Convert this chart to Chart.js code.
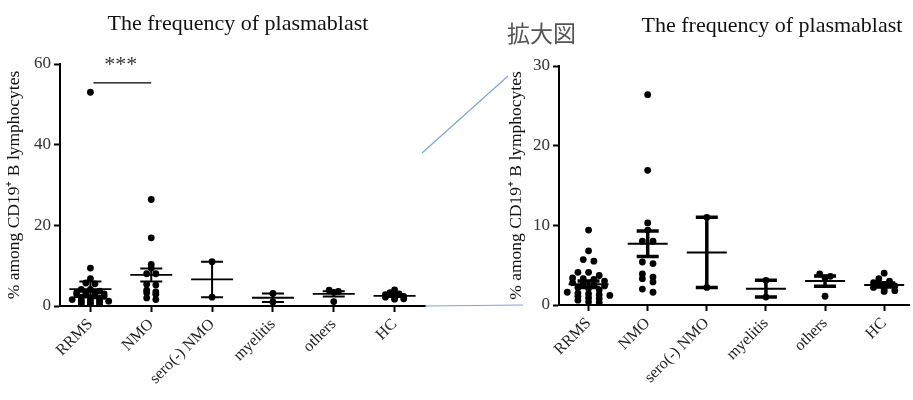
<!DOCTYPE html>
<html>
<head>
<meta charset="utf-8">
<script src="https://cdn.jsdelivr.net/npm/chart.js@4"></script>
<style>
  body { margin: 0; background: #fff; }
  #wrap { position: relative; width: 913px; height: 400px; overflow: hidden; }
  canvas { position: absolute; top: 0; }
  .title { position: absolute; font: 22px "Liberation Serif", serif; line-height: 22px; color: #111; white-space: nowrap; transform: translateX(-50%); }
  .zoom-note { position: absolute; font: 23px "Noto Sans CJK JP", sans-serif; line-height: 23px; color: #555; white-space: nowrap; }
</style>
</head>
<body>
<div id="wrap">
  <canvas id="fullChart" width="530" height="400" style="left:0"></canvas>
  <canvas id="zoomChart" width="453" height="400" style="left:460px"></canvas>
  <div class="title" style="left:238px; top:12px">The frequency of plasmablast</div>
  <div class="title" style="left:772px; top:14px">The frequency of plasmablast</div>
  <div class="zoom-note" style="left:507px; top:21px">拡大図</div>
</div>
<script>
// groups on the x axis
var categories = ['RRMS', 'NMO', 'sero(-) NMO', 'myelitis', 'others', 'HC'];

// individual values per group (% of CD19+ B cells)
var rrms = [53, 9.4, 6.8, 5.7, 5.5, 4.1, 4.1, 3.7, 3.4, 3.3, 3.2, 3.0, 2.8, 2.7, 2.5,
            2.4, 2.2, 2.1, 1.9, 1.6, 1.5, 1.4, 1.3, 1.2, 1.1, 0.9, 0.8, 0.6, 0.4, 0.3];
var nmo = [26.4, 16.9, 10.3, 9.4, 8.0, 8.0, 5.4, 5.2, 3.9, 3.5, 3.3, 2.9, 2.0, 1.6];
var seroNeg = [11.0, 2.2];
var myelitis = [3.1, 1.0];
var others = [3.9, 3.6, 3.4, 1.1];
var hc = [4.0, 3.3, 3.0, 2.8, 2.6, 2.4, 2.2, 2.0, 1.8, 1.7];
var groups = [rrms, nmo, seroNeg, myelitis, others, hc];

// mean and SEM for each panel
var fullMean = [4.2, 7.7, 6.6, 2.05, 3.0, 2.5];
var fullSem = [1.9, 1.6, 4.4, 1.05, 0.64, 0.25];
var zoomMean = [2.6, 7.7, 6.6, 2.05, 3.0, 2.5];
var zoomSem = [0.4, 1.6, 4.4, 1.05, 0.64, 0.25];

// y ticks
var fullTicks = [0, 20, 40, 60];
var zoomTicks = [0, 10, 20, 30];

// RRMS vs NMO significance
var sigPair = [0, 1];
var sigLevel = 55.3;
var sigText = '***';

var serif = '"Liberation Serif", serif';

// spread dots of similar value sideways, row by row (scatter dot plot)
function swarm(values, rowStep, colStep, yMax) {
    var sorted = values.filter(function (v) { return v <= yMax; }).sort(function (a, b) { return b - a; });
    var out = [];
    var row = [];
    function flush() {
        row.forEach(function (v, k) { out.push({ dx: (k - (row.length - 1) / 2) * colStep, y: v }); });
        row = [];
    }
    sorted.forEach(function (v) {
        if (row.length && row[0] - v >= rowStep) flush();
        row.push(v);
    });
    flush();
    return out;
}

function buildPoints(rowStep, colStep, yMax) {
    var pts = [];
    groups.forEach(function (vals, i) {
        swarm(vals, rowStep, colStep, yMax).forEach(function (p) {
            pts.push({ x: i + p.dx, y: p.y });
        });
    });
    return pts;
}

// mean line with SEM whiskers for each group
var meanSemPlugin = {
    id: 'meanSem',
    afterDatasetsDraw: function (chart, args, opts) {
        var ctx = chart.ctx;
        var xs = chart.scales.x, ys = chart.scales.y;
        ctx.save();
        ctx.strokeStyle = '#000';
        opts.mean.forEach(function (m, i) {
            var x = xs.getPixelForValue(i);
            var yM = ys.getPixelForValue(m);
            var yHi = ys.getPixelForValue(m + opts.sem[i]);
            var yLo = ys.getPixelForValue(m - opts.sem[i]);
            ctx.lineWidth = opts.barWidth;
            ctx.beginPath();
            ctx.moveTo(x, yHi); ctx.lineTo(x, yLo);
            ctx.moveTo(x - opts.capHalf, yHi); ctx.lineTo(x + opts.capHalf, yHi);
            ctx.moveTo(x - opts.capHalf, yLo); ctx.lineTo(x + opts.capHalf, yLo);
            ctx.stroke();
            ctx.lineWidth = opts.meanWidth;
            ctx.beginPath();
            ctx.moveTo(x - opts.meanHalf, yM); ctx.lineTo(x + opts.meanHalf, yM);
            ctx.stroke();
        });
        ctx.restore();
    }
};

// significance bracket and the lines leading to the zoomed panel
var extrasPlugin = {
    id: 'extras',
    afterDraw: function (chart, args, opts) {
        if (!opts.sig) return;
        var ctx = chart.ctx;
        var xs = chart.scales.x, ys = chart.scales.y;
        var area = chart.chartArea;
        var y = ys.getPixelForValue(sigLevel);
        ctx.save();
        ctx.strokeStyle = '#000';
        ctx.lineWidth = 1.2;
        ctx.beginPath();
        ctx.moveTo(xs.getPixelForValue(sigPair[0]) + 3, y);
        ctx.lineTo(xs.getPixelForValue(sigPair[1]), y);
        ctx.stroke();
        ctx.fillStyle = '#333';
        ctx.font = '22px ' + serif;
        ctx.textAlign = 'center';
        ctx.textBaseline = 'middle';
        ctx.fillText(sigText, (xs.getPixelForValue(sigPair[0]) + xs.getPixelForValue(sigPair[1])) / 2, y - 18);

        ctx.strokeStyle = '#7fa5d6';
        ctx.lineWidth = 1.2;
        ctx.beginPath();
        ctx.moveTo(area.right, area.bottom);
        ctx.lineTo(523, area.bottom - 1);
        ctx.moveTo(area.right - 3, 153);
        ctx.lineTo(508, 76);
        ctx.stroke();
        ctx.restore();
    }
};

function makePanel(id, cfg) {
    return new Chart(document.getElementById(id), {
        type: 'scatter',
        data: {
            datasets: [{
                data: buildPoints(cfg.rowStep, cfg.colStep, cfg.yMax),
                pointRadius: 3.4,
                pointBackgroundColor: '#000',
                pointBorderWidth: 0
            }]
        },
        options: {
            responsive: false,
            animation: false,
            devicePixelRatio: 1,
            layout: { padding: cfg.padding },
            plugins: {
                legend: { display: false },
                tooltip: { enabled: false },
                meanSem: cfg.meanSem,
                extras: { sig: cfg.sig }
            },
            scales: {
                x: {
                    type: 'linear',
                    min: -0.5,
                    max: cfg.xMax,
                    afterBuildTicks: function (s) {
                        s.ticks = categories.map(function (c, i) { return { value: i }; });
                    },
                    afterFit: function (s) { s.height = cfg.xHeight; },
                    ticks: {
                        callback: function (v) { return categories[v]; },
                        autoSkip: false,
                        maxRotation: 45,
                        minRotation: 45,
                        padding: 3,
                        color: '#222',
                        font: { family: serif, size: 16 }
                    },
                    grid: { drawOnChartArea: false, tickLength: 6, tickWidth: 2, tickColor: '#000' },
                    border: { color: '#000', width: 2 }
                },
                y: {
                    min: 0,
                    max: cfg.yMax,
                    afterBuildTicks: function (s) {
                        s.ticks = cfg.yTicks.map(function (v) { return { value: v }; });
                    },
                    afterFit: function (s) { s.width = cfg.yWidth; },
                    ticks: {
                        padding: 3,
                        color: '#333',
                        font: { family: serif, size: 17 }
                    },
                    grid: { drawOnChartArea: false, tickLength: 6, tickWidth: 2, tickColor: '#000' },
                    border: { color: '#000', width: 2 },
                    title: {
                        display: true,
                        text: '% among CD19\u207A B lymphocytes',
                        color: '#111',
                        padding: { top: 4, bottom: 0 },
                        font: { family: serif, size: 17.5 }
                    }
                }
            }
        },
        plugins: [meanSemPlugin, extrasPlugin]
    });
}

makePanel('fullChart', {
    yMax: 60, yTicks: fullTicks, xMax: 5.5,
    rowStep: 0.5, colStep: 0.15,
    padding: { top: 64, right: 105, bottom: 0, left: 0 },
    xHeight: 94, yWidth: 60,
    sig: true,
    meanSem: { mean: fullMean, sem: fullSem, barWidth: 2, meanWidth: 1.8, capHalf: 11, meanHalf: 21 }
});

makePanel('zoomChart', {
    yMax: 30, yTicks: zoomTicks, xMax: 5.42,
    rowStep: 0.44, colStep: 0.18,
    padding: { top: 66, right: 0, bottom: 0, left: 42 },
    xHeight: 95, yWidth: 57,
    sig: false,
    meanSem: { mean: zoomMean, sem: zoomSem, barWidth: 3.5, meanWidth: 2, capHalf: 11, meanHalf: 20 }
});
</script>
</body>
</html>
